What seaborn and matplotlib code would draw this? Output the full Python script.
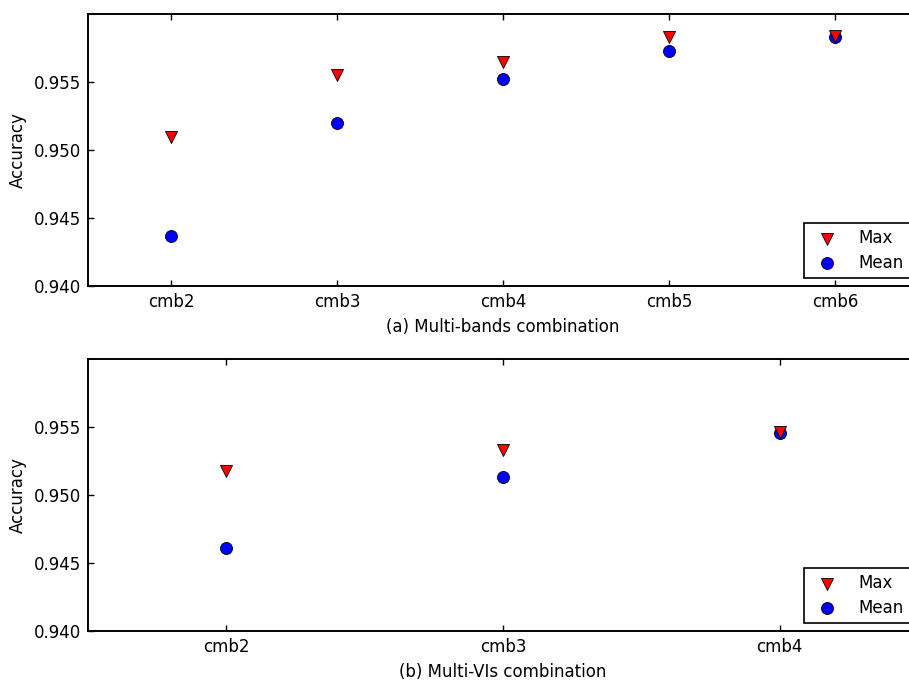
import numpy as np
import pandas as pd
import seaborn as sns
import matplotlib
matplotlib.use("Agg")
import matplotlib.pyplot as plt

# values
bands_cats = ["cmb2", "cmb3", "cmb4", "cmb5", "cmb6"]
bands_max = [0.95096, 0.95551, 0.95647, 0.95831, 0.95838]
bands_mean = [0.94368, 0.95199, 0.95522, 0.95728, 0.95831]

vis_cats = ["cmb2", "cmb3", "cmb4"]
vis_max = [0.95176, 0.95331, 0.95463]
vis_mean = [0.94610, 0.95132, 0.95456]

yticks = [0.940, 0.945, 0.950, 0.955]

sns.set_theme(style="white")
plt.rcParams.update({
    "font.family": ["DejaVu Sans"],
    "font.size": 12,
    "axes.edgecolor": "black",
    "axes.linewidth": 1.4,
    "xtick.direction": "in",
    "ytick.direction": "in",
    "xtick.top": True,
    "ytick.right": True,
    "xtick.bottom": True,
    "ytick.left": True,
    "xtick.major.size": 4,
    "ytick.major.size": 4,
    "xtick.major.width": 1,
    "ytick.major.width": 1,
    "xtick.major.pad": 5,
    "ytick.major.pad": 5,
    "xtick.labelsize": 12,
    "ytick.labelsize": 12,
    "xtick.color": "black",
    "ytick.color": "black",
    "axes.labelcolor": "black",
    "text.color": "black",
})

fig = plt.figure(figsize=(9.09, 6.8), dpi=100)
ax1 = fig.add_axes([88 / 909, 1 - 286 / 680, 830 / 909, 272 / 680])
ax2 = fig.add_axes([88 / 909, 1 - 631 / 680, 830 / 909, 272 / 680])


def panel(ax, cats, mx, mn, xlabel):
    df = pd.DataFrame({"combo": cats, "max": mx, "mean": mn})
    sns.scatterplot(data=df, x="combo", y="max", marker="v", color="red",
                    edgecolor="black", linewidth=0.6, s=75, label="Max",
                    zorder=3, ax=ax)
    sns.scatterplot(data=df, x="combo", y="mean", marker="o", color="blue",
                    edgecolor="black", linewidth=0.6, s=75, label="Mean",
                    zorder=2, ax=ax)
    ax.set_xlim(-0.5, len(cats) - 0.5)
    ax.set_ylim(0.940, 0.960)
    ax.set_yticks(yticks)
    ax.set_yticklabels([f"{v:.3f}" for v in yticks])
    ax.set_xlabel(xlabel, fontsize=12, labelpad=5)
    ax.set_ylabel("Accuracy", fontsize=12, labelpad=5)
    leg = ax.legend(loc="lower right", fancybox=False, framealpha=1,
                    edgecolor="black", fontsize=12, scatterpoints=1,
                    handletextpad=0.9, borderpad=0.35, labelspacing=0.4,
                    borderaxespad=0.5)
    leg.get_frame().set_linewidth(1.2)
    for s in ax.spines.values():
        s.set_visible(True)


panel(ax1, bands_cats, bands_max, bands_mean, "(a) Multi-bands combination")
panel(ax2, vis_cats, vis_max, vis_mean, "(b) Multi-VIs combination")

fig.savefig("out.png", dpi=100)
